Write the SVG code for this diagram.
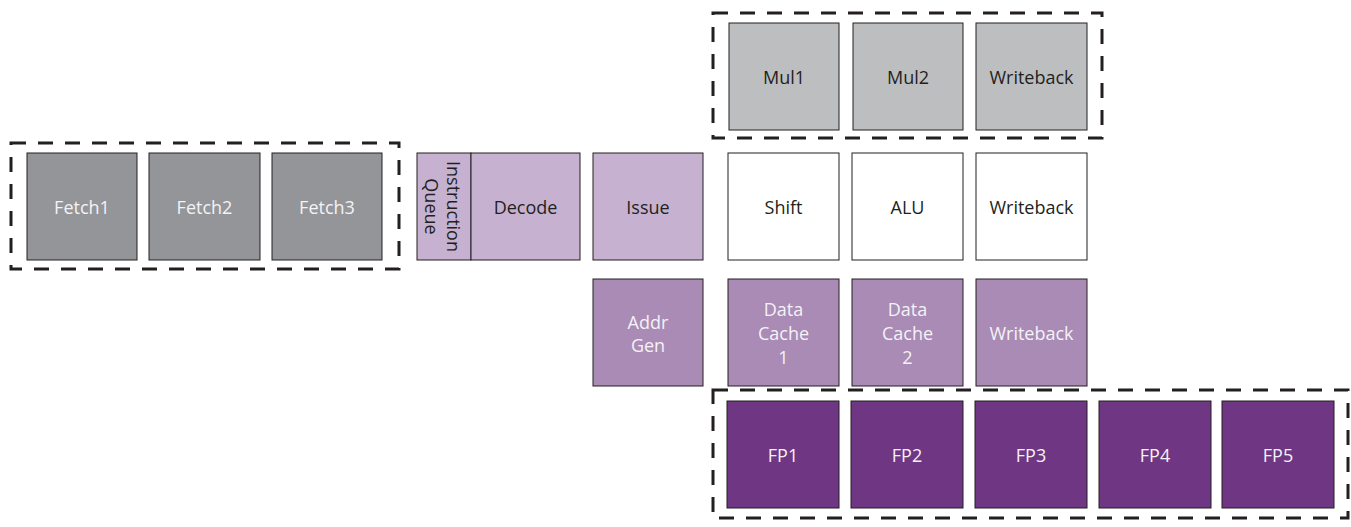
<svg xmlns="http://www.w3.org/2000/svg" width="1351" height="527" viewBox="0 0 1351 527">
<style>
text{font-family:"Open Sans","Noto Sans",sans-serif;font-size:18px;text-anchor:middle;dominant-baseline:central}
.box{stroke:#231f20;stroke-width:1}
.fetch{fill:#939598}
.mul{fill:#bcbec0}
.lp{fill:#c6b2d0}
.mp{fill:#a98bb5}
.dp{fill:#6f3683}
.wh{fill:#ffffff}
.tl{fill:#f4f2f6}
.td{fill:#231f20}
.dash{fill:none;stroke:#231f20;stroke-width:3;stroke-dasharray:15 12}
</style>
<g id="groups">
<rect class="dash" x="11" y="143" width="388" height="126"/>
<rect class="dash" x="713" y="13" width="389" height="125"/>
<rect class="dash" x="713" y="390" width="635" height="128"/>
</g>
<g id="fetch1"><rect class="box fetch" x="27" y="153" width="110" height="107"/><text class="tl" x="82" y="207">Fetch1</text></g>
<g id="fetch2"><rect class="box fetch" x="149" y="153" width="111" height="107"/><text class="tl" x="204.5" y="207">Fetch2</text></g>
<g id="fetch3"><rect class="box fetch" x="272" y="153" width="110" height="107"/><text class="tl" x="327" y="207">Fetch3</text></g>
<g id="iq"><rect class="box lp" x="417" y="153" width="54" height="107"/><text class="td" transform="translate(443 206.5) rotate(90)"><tspan x="0" y="-11">Instruction</tspan><tspan x="0" y="11">Queue</tspan></text></g>
<g id="decode"><rect class="box lp" x="471" y="153" width="109" height="107"/><text class="td" x="525.5" y="207">Decode</text></g>
<g id="issue"><rect class="box lp" x="593" y="153" width="110" height="107"/><text class="td" x="648" y="207">Issue</text></g>
<g id="mul1"><rect class="box mul" x="729" y="23" width="110" height="107"/><text class="td" x="784" y="77">Mul1</text></g>
<g id="mul2"><rect class="box mul" x="853" y="23" width="110" height="107"/><text class="td" x="908" y="77">Mul2</text></g>
<g id="wb1"><rect class="box mul" x="976" y="23" width="111" height="107"/><text class="td" x="1031.5" y="77">Writeback</text></g>
<g id="shift"><rect class="box wh" x="728" y="153" width="111" height="107"/><text class="td" x="783.5" y="207">Shift</text></g>
<g id="alu"><rect class="box wh" x="852" y="153" width="111" height="107"/><text class="td" x="907.5" y="207">ALU</text></g>
<g id="wb2"><rect class="box wh" x="976" y="153" width="111" height="107"/><text class="td" x="1031.5" y="207">Writeback</text></g>
<g id="addrgen"><rect class="box mp" x="593" y="279" width="110" height="107"/><text class="tl"><tspan x="648" y="322">Addr</tspan><tspan x="648" y="345">Gen</tspan></text></g>
<g id="dc1"><rect class="box mp" x="728" y="279" width="111" height="107"/><text class="tl"><tspan x="783.5" y="309">Data</tspan><tspan x="783.5" y="333">Cache</tspan><tspan x="783.5" y="357">1</tspan></text></g>
<g id="dc2"><rect class="box mp" x="852" y="279" width="111" height="107"/><text class="tl"><tspan x="907.5" y="309">Data</tspan><tspan x="907.5" y="333">Cache</tspan><tspan x="907.5" y="357">2</tspan></text></g>
<g id="wb3"><rect class="box mp" x="976" y="279" width="111" height="107"/><text class="tl" x="1031.5" y="333">Writeback</text></g>
<g id="fp1"><rect class="box dp" x="727" y="401" width="112" height="107"/><text class="tl" x="783" y="455">FP1</text></g>
<g id="fp2"><rect class="box dp" x="851" y="401" width="112" height="107"/><text class="tl" x="907" y="455">FP2</text></g>
<g id="fp3"><rect class="box dp" x="975" y="401" width="112" height="107"/><text class="tl" x="1031" y="455">FP3</text></g>
<g id="fp4"><rect class="box dp" x="1099" y="401" width="112" height="107"/><text class="tl" x="1155" y="455">FP4</text></g>
<g id="fp5"><rect class="box dp" x="1222" y="401" width="112" height="107"/><text class="tl" x="1278" y="455">FP5</text></g>
<g id="connectors"></g>
</svg>
